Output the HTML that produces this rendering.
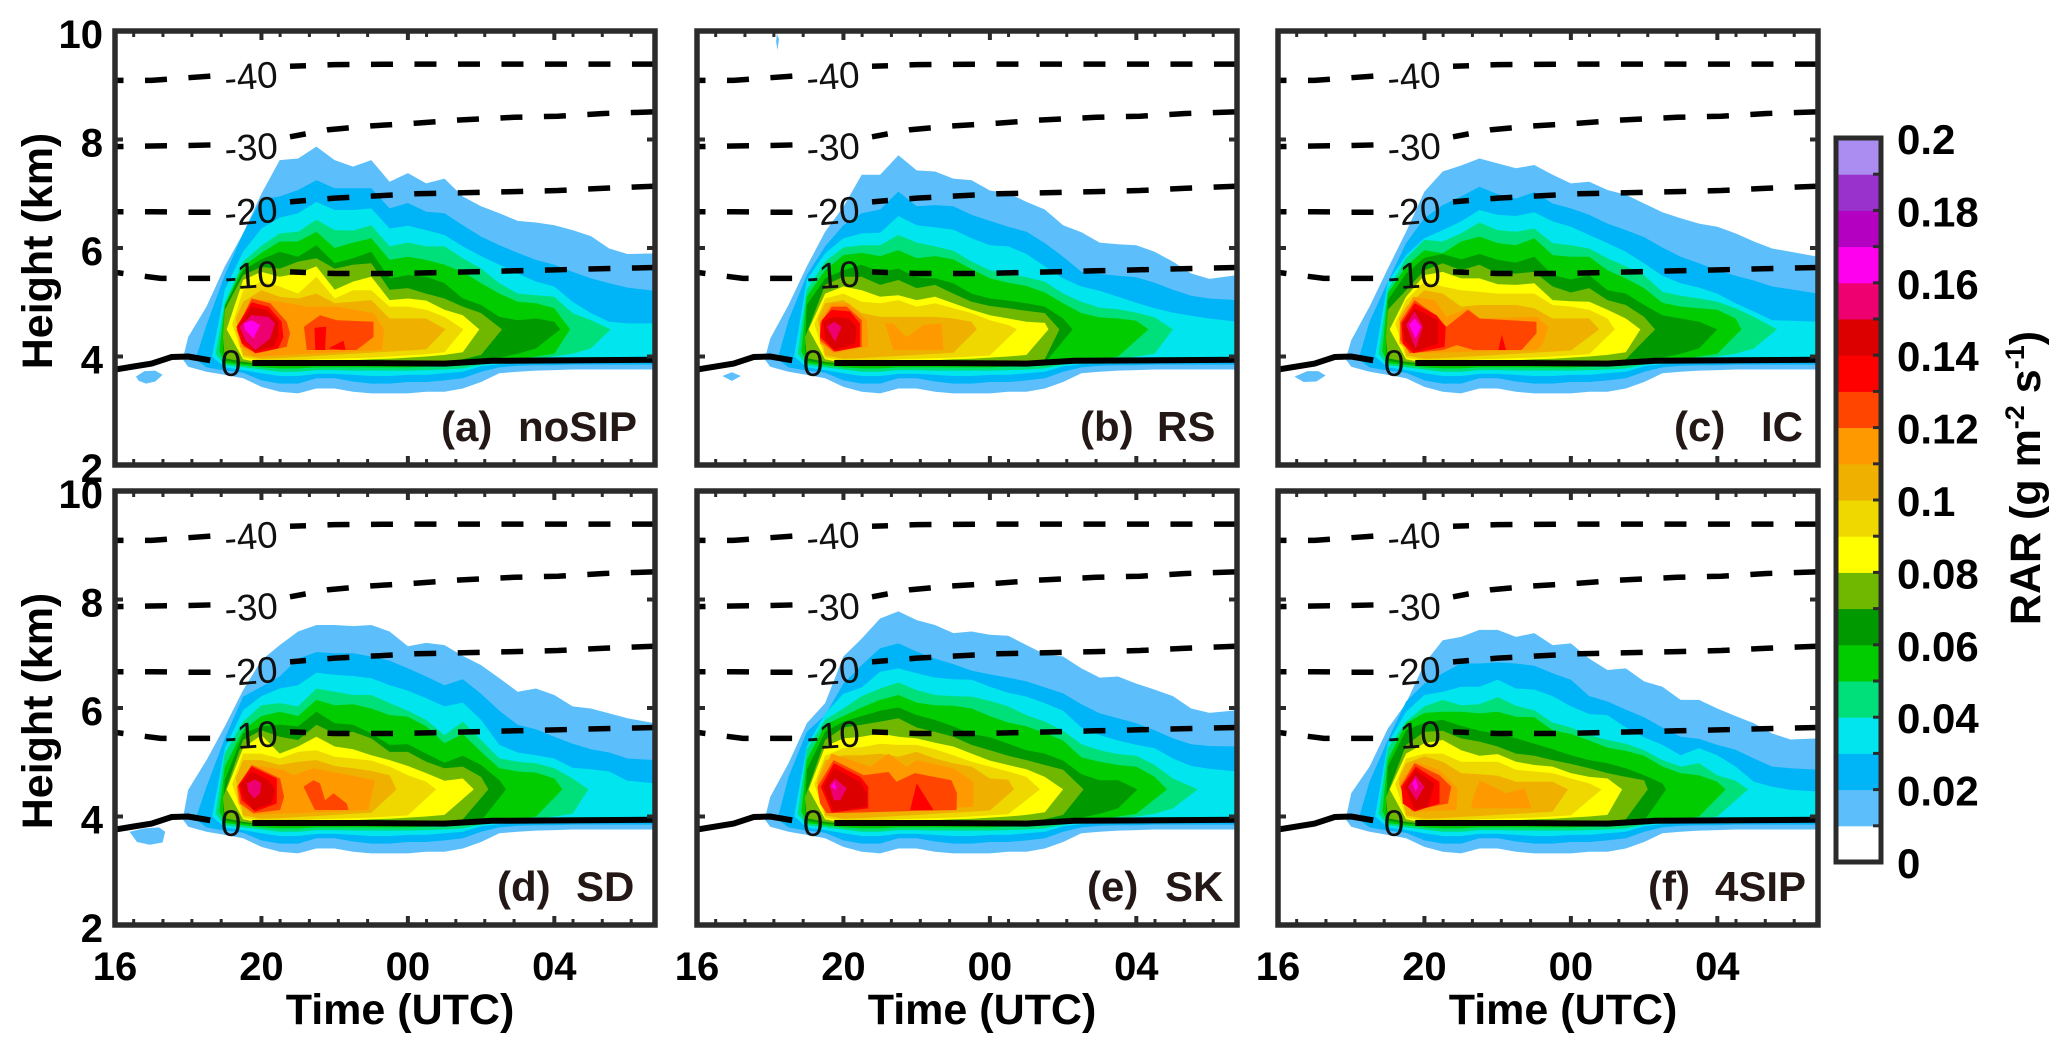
<!DOCTYPE html>
<html lang="en">
<head>
<meta charset="utf-8">
<title>RAR time-height panels</title>
<style>
html,body{margin:0;padding:0;background:#fff;}
svg{display:block;font-family:"Liberation Sans",sans-serif;}
</style>
</head>
<body>
<svg id="chart" xmlns="http://www.w3.org/2000/svg" width="2067" height="1051" viewBox="0 0 2067 1051"></svg>
<script>
const _ = null;
const timeGrid = [2,2.5,3,3.5,4,4.5,5,5.5,6,6.5,7,7.5,8,8.5,9,9.5,10,10.5,11,11.5,12,12.5,13,13.5,14,14.75];
const xTickHours = [0,4,8,12];
const xTickLabels = ['16','20','00','04'];
const xMinorOffsets = [0.51,1.31,2.1,2.9];
const yTickValues = [2,4,6,8,10];
const panelTags = ['(a)','(b)','(c)','(d)','(e)','(f)'];
const panelNames = ['noSIP','RS','IC','SD','SK','4SIP'];
const bandColors = ['#ffffff','#5cbffb','#00b4f8','#00e5ee','#00e07a','#00cc00','#009900','#70b800','#ffff00','#eed800','#efb000','#ff9900','#ff4500','#ff0000','#dd0000','#ee0070','#ff00ee','#b400c0','#9932cc','#ab8cf0'];
const barLabels = ['0','0.02','0.04','0.06','0.08','0.1','0.12','0.14','0.16','0.18','0.2'];
const leftTipTimes = [1.85,2.2,2.65,2.75,2.85,2.95,2.95,3.05,3.2,3.3];
const leftTipHeights = [3.95,3.95,4.0,4.05,4.1,4.15,4.35,4.5,4.6,4.7];
const noseHeight = 4.5;

const bottoms = [
[3.81,3.72,3.66,3.6,3.44,3.35,3.32,3.41,3.41,3.35,3.32,3.32,3.32,3.35,3.35,3.41,3.53,3.69,3.72,3.74,3.75,3.76,3.76,3.76,3.76,3.76],
[_,3.8,3.74,3.7,3.56,3.5,3.5,3.6,3.6,3.54,3.5,3.5,3.53,3.53,3.56,3.6,3.72,3.8,3.83,3.84,3.84,3.85,3.85,3.85,3.85,3.85],
[_,_,3.8,3.75,3.69,3.64,3.64,3.68,3.68,3.66,3.64,3.64,3.66,3.66,3.69,3.72,3.82,3.86,3.88,3.88,3.89,3.89,3.9,3.9,3.9,3.9],
[_,_,3.84,3.8,3.76,3.72,3.72,3.75,3.75,3.74,3.74,3.74,3.74,3.75,3.76,3.78,3.85,3.9,3.93,3.96,4,4.05,4.15,4.2,4.2,4.2],
[_,_,3.88,3.84,3.8,3.78,3.78,3.8,3.8,3.8,3.8,3.8,3.8,3.81,3.82,3.84,3.87,3.9,3.95,4,4.05,4.15,4.25],
[_,_,3.92,3.87,3.84,3.82,3.82,3.83,3.83,3.83,3.83,3.84,3.84,3.85,3.86,3.88,3.92,3.98,4.05,4.15,4.25,4.3],
[_,_,3.97,3.9,3.86,3.85,3.85,3.85,3.86,3.86,3.86,3.87,3.87,3.88,3.9,3.95,4.03,4.12,4.2],
[_,_,_,3.95,3.88,3.88,3.9,3.9,3.92,3.93,3.95,3.96,3.98,4,4.03,4.08,4.15],
[_,_,_,3.98,3.92,3.92,3.93,3.95,3.96,3.97,3.98,4,4.02,4.04,4.08,4.12],
[_,_,_,4.02,3.96,3.97,3.99,4.01,4.03,4.05,4.07,4.09,4.11,4.13,4.17]
];

const topsA = [
[4.36,4.92,5.66,6.27,7.0,7.62,7.65,7.87,7.62,7.5,7.62,7.22,7.38,7.19,7.28,6.95,6.77,6.64,6.5,6.47,6.42,6.33,6.22,5.99,5.89,5.9],
[_,4.58,5.5,6.27,6.9,6.95,7.07,7.25,7.1,7.1,7.1,6.73,6.83,6.67,6.64,6.42,6.21,6.05,5.91,5.78,5.69,5.56,5.44,5.35,5.27,5.21],
[_,_,5.23,5.93,6.36,6.56,6.64,6.85,6.7,6.7,6.73,6.36,6.41,6.33,6.24,6.03,5.85,5.69,5.53,5.38,5.29,5.01,4.8,4.64,4.61,4.61],
[_,_,4.98,5.75,6.04,6.27,6.3,6.52,6.33,6.32,6.42,6.03,6.1,6.03,6.03,5.81,5.62,5.35,5.16,5.13,5.1,4.8,4.67],
[_,_,4.95,5.66,5.91,6.12,6.12,6.3,6.0,6.1,6.18,5.78,5.84,5.78,5.69,5.56,5.35,5.16,5.01,4.98,4.89],
[_,_,4.92,5.59,5.79,5.93,5.84,6.05,5.72,5.81,5.93,5.44,5.5,5.47,5.35,5.07,4.95,4.73,4.67,4.7,4.64],
[_,_,4.86,5.5,5.65,5.62,5.75,5.81,5.62,5.69,5.72,5.23,5.26,5.16,5.07,4.92,4.8],
[_,_,_,5.41,5.56,5.47,5.53,5.66,5.23,5.38,5.47,5.04,5.07,5.03,4.86,4.76],
[_,_,_,5.22,5.38,5.29,5.16,5.47,5.07,5.22,5.22,4.92,4.92,4.86,4.73],
[_,_,_,5.01,5.22,5.1,5.07,5.16,4.98,5.01,5.04,4.7,4.7,4.7]
];
const tipsA = [_,_,_,13.54,12.43,12.16,10.57,9.95,9.52,9.03];
const hotA = [
[1,[[0.57,3.63],[0.8,3.73],[1.1,3.74],[1.3,3.66],[1.1,3.54],[0.85,3.5],[0.65,3.55]]],
[11,[[3.32,4.55],[3.73,5.07],[4.51,5.01],[5.24,4.92],[6.06,4.92],[7.06,4.8],[7.35,4.49],[7.29,4.12],[3.78,4.0],[3.42,4.18]]],
[12,[[3.32,4.49],[3.73,5.07],[4.24,4.98],[4.69,4.64],[4.78,4.43],[4.69,4.18],[3.87,4.06],[3.51,4.18]]],
[12,[[5.16,4.55],[5.6,4.76],[6.06,4.67],[7.06,4.64],[7.06,4.36],[6.6,4.12],[5.24,4.12]]],
[13,[[3.32,4.55],[3.73,5.0],[4.19,4.92],[4.55,4.64],[4.6,4.36],[4.46,4.15],[3.83,4.06],[3.46,4.24]]],
[13,[[5.45,4.53],[5.77,4.55],[5.74,4.12],[5.47,4.12]]],
[13,[[5.83,4.15],[6.24,4.29],[6.3,4.12]]],
[14,[[3.37,4.55],[3.73,4.92],[4.14,4.86],[4.46,4.64],[4.46,4.36],[4.33,4.18],[3.83,4.09],[3.51,4.3]]],
[15,[[3.4,4.55],[3.73,4.76],[4.19,4.73],[4.37,4.61],[4.24,4.33],[3.83,4.12],[3.55,4.3]]],
[16,[[3.51,4.61],[3.73,4.67],[3.96,4.58],[3.78,4.33],[3.55,4.49]]]
];

const topsB = [
[4.33,4.95,5.66,6.3,6.76,7.35,7.35,7.71,7.43,7.41,7.28,7.25,7.06,7.01,6.85,6.71,6.42,6.29,6.1,6.07,6.05,5.93,5.75,5.53,5.43,5.5],
[_,4.67,5.5,6.03,6.42,6.64,6.71,7.04,6.77,6.79,6.77,6.61,6.5,6.39,6.3,6.09,5.84,5.56,5.52,5.49,5.46,5.36,5.23,5.12,5.07,5.04],
[_,_,5.41,5.9,6.18,6.27,6.28,6.59,6.42,6.38,6.34,6.18,6.05,6.03,5.89,5.66,5.44,5.29,5.21,5.1,4.99,4.89,4.81,4.75,4.7,4.64],
[_,_,5.23,5.75,6.01,6.05,6.05,6.24,6.1,6.03,5.95,5.75,5.59,5.52,5.46,5.38,5.16,5.01,4.9,4.87,4.81,4.72],
[_,_,5.1,5.59,5.87,5.91,5.85,5.96,5.81,5.85,5.79,5.61,5.44,5.36,5.3,5.18,4.98,4.8,4.72,4.7,4.66],
[_,_,4.95,5.44,5.59,5.69,5.56,5.62,5.46,5.44,5.35,5.16,5.07,5.03,4.98,4.92,4.7],
[_,_,_,5.32,5.47,5.47,5.32,5.41,5.26,5.32,5.16,5.01,4.93,4.89,4.84,4.8],
[_,_,_,5.16,5.29,5.22,5.1,5.13,5.04,5.1,4.98,4.86,4.76,4.7,4.64,4.62],
[_,_,_,5.07,5.16,5.01,4.98,5.04,4.92,4.98,4.89,4.8,4.67,4.58],
[_,_,_,4.98,5.04,4.8,4.73,4.73,4.73,4.73,4.7,4.64]
];
const tipsB = [_,_,_,13.0,12.33,10.26,9.9,9.6,8.74,7.64];
const hotB = [
[1,[[2.18,9.95],[2.24,9.85],[2.2,9.65],[2.16,9.8]]],
[1,[[0.69,3.64],[0.95,3.71],[1.2,3.64],[0.95,3.55]]],
[11,[[3.36,4.67],[3.68,4.98],[4.14,4.98],[4.64,4.67],[4.68,4.18],[3.73,4.06],[3.36,4.24]]],
[11,[[5.14,4.61],[5.36,4.61],[5.73,4.36],[6.18,4.58],[6.68,4.61],[6.73,4.12],[5.36,4.12]]],
[12,[[3.36,4.61],[3.68,4.92],[4.09,4.92],[4.5,4.67],[4.5,4.18],[3.73,4.09],[3.36,4.3]]],
[13,[[3.41,4.67],[3.68,4.86],[4.18,4.83],[4.45,4.61],[4.45,4.18],[3.77,4.09],[3.36,4.36]]],
[14,[[3.45,4.64],[3.73,4.73],[4.14,4.7],[4.36,4.55],[4.32,4.24],[3.77,4.12],[3.5,4.3]]],
[15,[[3.54,4.55],[3.74,4.64],[3.95,4.55],[3.77,4.27]]]
];

const topsC = [
[4.3,4.92,5.62,6.3,7.04,7.41,7.52,7.65,7.56,7.47,7.53,7.35,7.19,7.22,7.07,6.98,6.82,6.66,6.55,6.45,6.39,6.27,6.12,5.99,5.93,5.84],
[_,4.64,5.38,6.09,6.55,6.79,6.95,7.13,6.99,6.91,7.03,6.82,6.73,6.61,6.45,6.33,6.2,6.01,5.84,5.72,5.59,5.49,5.4,5.29,5.24,5.16],
[_,_,5.38,5.87,6.18,6.33,6.49,6.7,6.61,6.59,6.66,6.49,6.39,6.24,6.09,5.93,5.72,5.49,5.35,5.27,5.16,4.98,4.83,4.67,4.66,4.64],
[_,_,5.23,5.81,6.15,6.12,6.27,6.47,6.33,6.3,6.36,6.09,6.05,5.99,5.81,5.66,5.5,5.19,5.12,5.07,5.01,4.89,4.73],
[_,_,5.16,5.66,5.96,5.9,6.12,6.21,6.09,6.05,6.18,5.87,5.84,5.84,5.59,5.44,5.26,4.99,4.92,4.89,4.86,4.7],
[_,_,5.04,5.53,5.82,5.89,5.79,5.89,5.78,5.73,5.84,5.5,5.42,5.5,5.22,5.16,4.95,4.76,4.7,4.64],
[_,_,4.86,5.22,5.59,5.72,5.59,5.69,5.53,5.53,5.56,5.29,5.18,5.26,5.04,4.95,4.73],
[_,_,_,5.1,5.5,5.56,5.44,5.44,5.33,5.32,5.35,5.04,5.02,5.01,4.86,4.7],
[_,_,_,5.04,5.38,5.29,5.22,5.19,5.16,5.16,5.16,4.95,4.92,4.86,4.7],
[_,_,_,4.92,5.22,5.16,4.92,4.95,4.95,4.95,4.89,4.7,4.7,4.7]
];
const tipsC = [_,_,_,13.63,12.66,12.0,10.3,9.9,9.2,8.77];
const hotC = [
[1,[[0.45,3.63],[0.8,3.73],[1.1,3.73],[1.3,3.65],[1.05,3.54],[0.7,3.53]]],
[11,[[3.32,4.67],[3.69,5.1],[4.28,5.04],[4.6,4.73],[5.19,4.89],[5.51,4.7],[7.06,4.73],[7.38,4.55],[7.24,4.24],[7.06,4.12],[3.69,4.06],[3.32,4.24]]],
[12,[[3.34,4.64],[3.73,5.04],[4.23,4.8],[4.6,4.55],[5.19,4.86],[5.51,4.7],[7.06,4.64],[7.06,4.43],[6.65,4.12],[5.34,4.12],[4.88,4.21],[4.51,4.12],[3.6,4.06],[3.34,4.3]]],
[13,[[3.37,4.61],[3.73,4.98],[4.33,4.76],[4.58,4.55],[4.55,4.18],[3.69,4.06],[3.41,4.24]]],
[13,[[6.11,4.4],[6.23,4.12],[6.02,4.12]]],
[14,[[3.41,4.61],[3.73,4.89],[4.37,4.67],[4.37,4.24],[3.73,4.09],[3.46,4.3]]],
[15,[[3.5,4.58],[3.73,4.83],[3.96,4.55],[3.76,4.15]]],
[16,[[3.58,4.58],[3.73,4.7],[3.91,4.55],[3.76,4.33]]]
];

const topsD = [
[4.49,5.04,5.66,6.33,6.88,7.16,7.41,7.53,7.53,7.51,7.53,7.41,7.14,7.2,7.16,6.96,6.79,6.55,6.3,6.36,6.24,6.03,5.99,5.9,5.81,5.72],
[_,4.55,5.44,6.21,6.39,6.58,6.91,7.03,7.01,7.01,6.95,6.87,6.73,6.58,6.42,6.53,6.26,5.95,5.69,5.61,5.47,5.34,5.24,5.18,5.07,5.04],
[_,_,5.26,5.96,6.22,6.36,6.42,6.65,6.61,6.59,6.55,6.42,6.32,6.18,6.03,6.1,5.78,5.32,5.18,5.13,5.07,4.9,4.87,4.83,4.66,4.61],
[_,_,5.16,5.75,6.05,6.09,6.03,6.36,6.3,6.24,6.24,6.09,5.95,5.78,5.5,5.75,5.41,5.07,5.01,4.98,4.89,4.7],
[_,_,4.92,5.59,5.85,5.93,5.85,6.15,6.05,6.07,5.99,5.87,5.84,5.66,5.35,5.52,5.19,4.89,4.83,4.81,4.7],
[_,_,4.67,5.53,5.66,5.69,5.66,5.93,5.72,5.69,5.53,5.32,5.33,5.16,4.99,5.12,4.95,4.67],
[_,_,_,5.41,5.59,5.47,5.41,5.69,5.53,5.56,5.44,5.19,5.19,5.01,4.89,4.92,4.73],
[_,_,_,5.26,5.5,5.16,5.29,5.47,5.29,5.24,5.13,5.04,4.93,4.8,4.66,4.7],
[_,_,_,5.16,5.16,5.07,5.19,5.22,5.1,5.07,5.03,4.92,4.76,4.64],
[_,_,_,5.04,5.04,4.95,5.01,5.04,4.93,4.89,4.84,4.76]
];
const tipsD = [_,_,_,12.93,12.22,10.68,10.2,9.8,8.77,7.69];
const hotD = [
[1,[[0.4,3.72],[0.8,3.78],[1.2,3.8],[1.37,3.72],[1.3,3.52],[0.95,3.48],[0.6,3.53]]],
[11,[[3.32,4.55],[3.73,4.95],[4.6,4.86],[4.87,4.76],[5.42,4.89],[7.1,4.67],[6.92,4.12],[3.78,4.03],[3.37,4.24]]],
[12,[[3.34,4.55],[3.73,4.95],[4.51,4.7],[4.62,4.36],[4.51,4.12],[3.78,4.06],[3.42,4.24]]],
[12,[[5.15,4.55],[5.42,4.67],[5.6,4.61],[5.74,4.3],[5.97,4.43],[6.33,4.24],[6.38,4.12],[5.46,4.12]]],
[13,[[3.37,4.58],[3.73,4.92],[4.42,4.7],[4.42,4.24],[3.83,4.09],[3.46,4.3]]],
[14,[[3.42,4.58],[3.73,4.83],[4.19,4.67],[4.37,4.49],[4.28,4.24],[3.78,4.12],[3.51,4.36]]],
[15,[[3.6,4.61],[3.83,4.68],[4.0,4.61],[3.96,4.43],[3.8,4.33],[3.64,4.46]]]
];

const topsE = [
[4.36,4.98,5.72,6.09,6.95,7.28,7.65,7.78,7.62,7.53,7.38,7.41,7.35,7.33,7.16,6.99,6.95,6.73,6.56,6.58,6.45,6.34,6.22,5.99,5.91,5.96],
[_,4.73,5.56,5.87,6.45,6.79,7.1,7.19,7.04,6.91,6.81,6.69,6.62,6.56,6.49,6.38,6.27,6.07,5.9,5.81,5.72,5.59,5.44,5.33,5.3,5.29],
[_,_,5.29,5.9,6.26,6.38,6.67,6.73,6.64,6.56,6.53,6.52,6.39,6.28,6.21,6.09,5.95,5.64,5.5,5.4,5.32,5.26,5.07,4.93,4.88,4.83],
[_,_,5.23,5.78,5.99,6.22,6.36,6.47,6.33,6.24,6.22,6.21,6.13,6.03,5.87,5.75,5.58,5.33,5.22,5.15,5.12,4.95,4.7],
[_,_,5.04,5.69,5.85,6.01,6.15,6.24,6.1,6.05,6.04,5.99,5.85,5.73,5.66,5.54,5.4,5.09,5.01,4.95,4.92,4.73],
[_,_,4.86,5.56,5.75,5.85,5.95,6.01,5.87,5.78,5.66,5.52,5.46,5.34,5.22,5.16,5.03,4.78,4.67,4.67],
[_,_,_,5.41,5.64,5.69,5.75,5.81,5.64,5.56,5.47,5.32,5.22,5.12,5.04,4.95,4.86],
[_,_,_,5.29,5.44,5.47,5.53,5.47,5.44,5.36,5.29,5.16,5.03,4.95,4.87,4.73],
[_,_,_,5.12,5.26,5.28,5.34,5.32,5.32,5.24,5.13,5.01,4.92,4.83,4.73],
[_,_,_,5.04,5.13,5.13,5.16,5.1,5.19,5.07,4.98,4.92,4.7,4.68]
];
const tipsE = [_,_,_,13.68,12.84,12.03,10.56,10.0,9.37,8.66];
const hotE = [
[11,[[3.27,4.61],[3.68,5.16],[4.73,4.92],[5.23,5.16],[5.73,4.92],[6.0,5.04],[7.0,4.89],[7.55,4.64],[7.55,4.18],[4.5,4.06],[3.68,4.06]]],
[12,[[3.29,4.55],[3.73,5.04],[4.55,4.76],[5.23,4.82],[5.45,4.64],[5.95,4.8],[6.95,4.67],[7.1,4.43],[7.09,4.12],[3.54,4.06],[3.36,4.24]]],
[13,[[3.38,4.55],[3.74,4.98],[4.46,4.73],[4.68,4.55],[4.68,4.15],[3.68,4.07]]],
[13,[[6.0,4.61],[6.46,4.12],[5.82,4.12]]],
[14,[[3.45,4.55],[3.74,4.89],[4.46,4.64],[4.64,4.43],[4.64,4.18],[3.73,4.09]]],
[15,[[3.62,4.58],[3.77,4.7],[4.09,4.52],[3.91,4.3],[3.74,4.3]]],
[16,[[3.65,4.55],[3.77,4.64],[3.8,4.49]]]
];

const topsF = [
[4.43,4.92,5.62,6.09,6.82,7.25,7.31,7.44,7.44,7.31,7.38,7.16,7.19,6.91,6.7,6.73,6.49,6.39,6.15,6.15,5.99,5.85,5.72,5.53,5.42,5.44],
[_,4.64,5.41,6.12,6.45,6.64,6.82,6.82,6.84,6.82,6.78,6.64,6.52,6.22,6.12,5.97,5.83,5.64,5.47,5.43,5.32,5.23,5.07,4.92,4.89,4.86],
[_,_,5.35,5.93,6.24,6.3,6.39,6.39,6.52,6.36,6.34,6.22,6.03,5.89,5.87,5.64,5.46,5.32,5.13,5.26,5.13,4.92,4.64,4.55,4.49,4.46],
[_,_,5.26,5.75,6.03,6.15,6.05,6.07,6.2,6.04,5.96,5.73,5.64,5.5,5.41,5.34,5.22,5.04,4.92,4.98,4.76,4.66],
[_,_,5.04,5.72,5.91,5.93,5.93,5.9,5.93,5.84,5.83,5.59,5.52,5.4,5.27,5.21,5.12,4.92,4.8,4.76,4.64],
[_,_,4.92,5.59,5.73,5.78,5.67,5.58,5.52,5.44,5.34,5.24,5.13,5.04,4.98,4.89,4.76,4.61],
[_,_,_,5.32,5.56,5.58,5.44,5.38,5.29,5.16,5.12,5.04,4.97,4.89,4.8,4.73,4.67],
[_,_,_,5.16,5.35,5.41,5.22,5.12,5.15,5.01,4.95,4.92,4.8,4.73,4.7],
[_,_,_,5.07,5.16,5.16,5.01,5.01,5.01,4.86,4.83,4.8,4.7,4.61],
[_,_,_,4.98,5.11,5.01,4.8,4.78,4.75,4.64,4.64,4.64]
];
const tipsF = [_,_,_,12.84,12.23,10.6,10.1,9.4,8.84,7.92];
const hotF = [
[11,[[3.3,4.61],[3.73,5.01],[4.41,4.86],[4.91,4.52],[4.87,4.12],[3.65,4.09]]],
[11,[[5.33,4.36],[5.51,4.67],[6.23,4.43],[6.74,4.52],[6.92,4.15],[5.28,4.15]]],
[12,[[3.34,4.55],[3.73,4.98],[4.41,4.76],[4.73,4.55],[4.64,4.24],[3.65,4.11]]],
[13,[[3.37,4.55],[3.76,4.92],[4.41,4.64],[4.41,4.24],[3.73,4.09],[3.41,4.24]]],
[14,[[3.46,4.55],[3.76,4.86],[4.28,4.61],[4.1,4.18],[3.73,4.12]]],
[15,[[3.55,4.55],[3.76,4.76],[4.0,4.55],[3.78,4.3]]],
[16,[[3.67,4.61],[3.76,4.7],[3.82,4.55],[3.76,4.46]]]
];

const isoLabels = ['-40','-30','-20','-10','0'];
const isoLeftTimes = [[0,1,2,2.65],[0,1,2,2.65],[0,1,2,2.65],[0,1.25,2.6],[0,1,1.55,2,2.6]];
const isoLeftHeights = [[9.09,9.09,9.14,9.17],[7.87,7.88,7.89,7.9],[6.67,6.67,6.66,6.66],[5.55,5.44,5.44],[3.76,3.87,3.99,4.0,3.93]];
const isoRightTimes = [[4.78,6,8,14.75],[4.78,5.83,7,8.2,9.4,10.9,12.1,13.35,14.75],[4.78,6,8.2,10.9,12.1,13.35,14.75],[4.78,6,7.8,10.9,14.75],[3.75,6.6,9,10.3,14.75]];
const isoRightHeights = [[9.35,9.38,9.39,9.39],[8.05,8.18,8.25,8.3,8.36,8.41,8.43,8.48,8.51],[6.85,6.92,7.0,7.04,7.06,7.1,7.14],[5.56,5.53,5.53,5.58,5.64],[3.88,3.88,3.87,3.92,3.94]];

const SVGNS = 'http://www.w3.org/2000/svg';
const root = document.getElementById('chart');
const frameColor = '#2b2b2b';
const plotLefts = [115,697,1278];
const plotTops = [31,491];
const plotW = 540, plotH = 434, hourSpan = 14.75;
const allTops = [topsA,topsB,topsC,topsD,topsE,topsF];
const allTips = [tipsA,tipsB,tipsC,tipsD,tipsE,tipsF];
const allHot = [hotA,hotB,hotC,hotD,hotE,hotF];
const tagX = [441,1080,1674,497,1087,1648];
const nameX = [518,1157,1761,576,1165,1715];
const isoLabelPos = [[252,89,-5],[252,160,-4],[252,224,-5],[252,288,-4],[231,376,0]];

function mk(tag, attrs, parent){
  const el = document.createElementNS(SVGNS, tag);
  for (const k in attrs) el.setAttribute(k, attrs[k]);
  (parent || root).appendChild(el);
  return el;
}
function pointsOf(arr, xs, ys){
  return arr.map(p => xs(p[0]).toFixed(1) + ',' + ys(p[1]).toFixed(1)).join(' ');
}
function bandPolygon(level, tops, tip){
  const i = level - 1;
  const pts = [[leftTipTimes[i], leftTipHeights[i]]];
  timeGrid.forEach((t, k) => { if (tops[k] != null) pts.push([t, tops[k]]); });
  if (tip != null) pts.push([tip, noseHeight]);
  const low = [];
  timeGrid.forEach((t, k) => {
    const b = bottoms[i][k];
    if (b != null && t > leftTipTimes[i] && (tip == null || t <= tip - 0.4)) low.push([t, b]);
  });
  return pts.concat(low.reverse());
}

const defs = mk('defs', {});
for (let p = 0; p < 6; p++){
  const left = plotLefts[p % 3], top = plotTops[p < 3 ? 0 : 1];
  const xs = t => left + t / hourSpan * plotW;
  const ys = h => top + (10 - h) / 8 * plotH;
  const clip = mk('clipPath', {id: 'clip' + p}, defs);
  mk('rect', {x: left, y: top, width: plotW, height: plotH}, clip);

  const panel = mk('g', {});
  
  
  const field = mk('g', {'clip-path': 'url(#clip' + p + ')'}, panel);
  
  

  allTops[p].forEach((tops, i) => {
    const lvl = i + 1;
    const poly = mk('polygon', {points: pointsOf(bandPolygon(lvl, tops, allTips[p][i]), xs, ys), fill: bandColors[lvl]}, field);
    
    
  });
  allHot[p].forEach(item => {
    const poly = mk('polygon', {points: pointsOf(item[1], xs, ys), fill: bandColors[item[0]]}, field);
    
    
  });

  isoLabels.forEach((lab, i) => {
    const isZero = lab === '0';
    const attrs = {fill: 'none', stroke: '#000', 'stroke-width': isZero ? 6 : 5.5};
    const lineL = mk('polyline', Object.assign({points: isoLeftTimes[i].map((t, k) => xs(t).toFixed(1) + ',' + ys(isoLeftHeights[i][k]).toFixed(1)).join(' ')}, attrs), field);
    
    
    const lineR = mk('polyline', Object.assign({points: isoRightTimes[i].map((t, k) => xs(t).toFixed(1) + ',' + ys(isoRightHeights[i][k]).toFixed(1)).join(' ')}, attrs), field);
    
    
    if (!isZero){
      lineL.setAttribute('stroke-dasharray', '22 21.5');
      lineL.setAttribute('stroke-dashoffset', '13.5');
      lineR.setAttribute('stroke-dasharray', '22 21.5');
      lineR.setAttribute('stroke-dashoffset', '6');
    }
    const pos = isoLabelPos[i];
    const lx = left - 115 + pos[0], ly = top - 31 + pos[1];
    const txt = mk('text', {x: lx, y: ly, 'text-anchor': 'middle', 'font-size': 37, fill: '#111', transform: 'rotate(' + pos[2] + ' ' + lx + ' ' + ly + ')'}, panel);
    txt.textContent = lab;
    
    
  });

  const frame = mk('rect', {x: left, y: top, width: plotW, height: plotH, fill: 'none', stroke: frameColor, 'stroke-width': 5.5}, panel);
  
  

  xTickHours.forEach((hr, k) => {
    const mx = xs(hr);
    if (k > 0){
      [[top, top + 9], [top + plotH, top + plotH - 9]].forEach(s => {
        const tk = mk('line', {x1: mx, x2: mx, y1: s[0], y2: s[1], stroke: frameColor, 'stroke-width': 4}, panel);
        
        
      });
    }
    xMinorOffsets.forEach(off => {
      const nx = xs(hr + off);
      if (nx > left + plotW) return;
      [[top, top + 6], [top + plotH, top + plotH - 6]].forEach(s => {
        const tk = mk('line', {x1: nx, x2: nx, y1: s[0], y2: s[1], stroke: frameColor, 'stroke-width': 3}, panel);
        
        
      });
    });
    if (p >= 3){
      const lab = mk('text', {x: mx, y: top + plotH + 55, 'text-anchor': 'middle', 'font-size': 40, 'font-weight': 700, fill: '#000'}, panel);
      lab.textContent = xTickLabels[k];
      
      
    }
  });
  yTickValues.forEach(v => {
    const my = ys(v);
    if (v !== 2 && v !== 10){
      [[left, left + 8], [left + plotW, left + plotW - 8]].forEach(s => {
        const tk = mk('line', {x1: s[0], x2: s[1], y1: my, y2: my, stroke: frameColor, 'stroke-width': 4}, panel);
        
        
      });
    }
    if (p % 3 === 0){
      const lab = mk('text', {x: 103, y: my + 17, 'text-anchor': 'end', 'font-size': 40, 'font-weight': 700, fill: '#000'}, panel);
      lab.textContent = String(v);
      
      
    }
  });

  const tagText = mk('text', {x: tagX[p], y: top + 410, 'font-size': 42, 'font-weight': 700, fill: '#231815'}, panel);
  tagText.textContent = panelTags[p];
  
  
  const nameText = mk('text', {x: nameX[p], y: top + 410, 'font-size': 42, 'font-weight': 700, fill: '#231815'}, panel);
  nameText.textContent = panelNames[p];
  
  

  if (p % 3 === 0){
    const cy = top + 220;
    const yl = mk('text', {x: 52, y: cy, 'text-anchor': 'middle', 'font-size': 43, 'font-weight': 700, fill: '#000', transform: 'rotate(-90 52 ' + cy + ')'}, panel);
    yl.textContent = 'Height (km)';
    
    
  }
  if (p >= 3){
    const xl = mk('text', {x: left + 285, y: 1024, 'text-anchor': 'middle', 'font-size': 43, 'font-weight': 700, fill: '#000'}, panel);
    xl.textContent = 'Time (UTC)';
    
    
  }
}

/* colour bar */
const barX = 1836, barW = 45, barTop = 138, barH = 724;
const barScale = v => barTop + barH - v / 0.2 * barH;
const barGroup = mk('g', {});


bandColors.forEach((c, i) => {
  const y1 = barScale((i + 1) * 0.01), y0 = barScale(i * 0.01);
  const seg = mk('rect', {x: barX, y: y1, width: barW, height: y0 - y1 + 0.5, fill: c}, barGroup);
  
  
  if (i > 0){
    const tk = mk('line', {x1: barX + barW - 8, x2: barX + barW, y1: y0, y2: y0, stroke: frameColor, 'stroke-width': 3}, barGroup);
    
    
  }
});
const barFrame = mk('rect', {x: barX, y: barTop, width: barW, height: barH, fill: 'none', stroke: frameColor, 'stroke-width': 5}, barGroup);


barLabels.forEach((lab, i) => {
  const t = mk('text', {x: 1897, y: barScale(i * 0.02) + 16, 'font-size': 42, 'font-weight': 700, fill: '#000'}, barGroup);
  t.textContent = lab;
  
  
});
const unitTitle = mk('text', {x: 2040, y: 478, 'text-anchor': 'middle', 'font-size': 43, 'font-weight': 700, fill: '#000', transform: 'rotate(-90 2040 478)'}, barGroup);


[['RAR (g m',0,43],['-2',-16,27],[' s',16,43],['-1',-16,27],[')',16,43]].forEach(part => {
  const s = mk('tspan', {dy: part[1], 'font-size': part[2]}, unitTitle);
  s.textContent = part[0];
});
</script>
</body>
</html>
